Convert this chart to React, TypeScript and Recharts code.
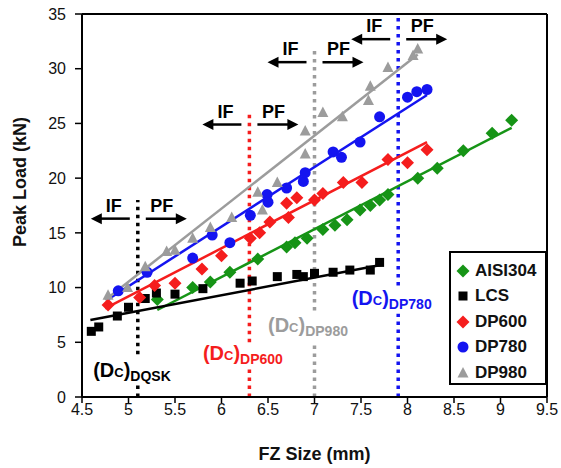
// Peak load vs FZ size scatter with linear trend lines and critical size markers
import {
  ComposedChart,
  Scatter,
  XAxis,
  YAxis,
  ReferenceLine,
  ReferenceDot,
  Legend,
} from "recharts";

// ---------------------------------------------------------------------------
// Data
// ---------------------------------------------------------------------------
const xTicks = [4.5, 5, 5.5, 6, 6.5, 7, 7.5, 8, 8.5, 9, 9.5];
const yTicks = [0, 5, 10, 15, 20, 25, 30, 35];

const aisiX = [5.31, 5.69, 5.88, 6.09, 6.39, 6.7, 6.79, 6.92, 7.09, 7.22, 7.35, 7.49, 7.6, 7.7, 7.79, 8.11, 8.32, 8.6, 8.91, 9.12];
const aisiY = [8.9, 10.0, 10.5, 11.4, 12.6, 13.7, 14.1, 14.5, 15.3, 15.7, 16.2, 17.1, 17.5, 18.0, 18.5, 20.0, 20.9, 22.5, 24.1, 25.3];

const lcsX = [4.6, 4.68, 4.88, 5.0, 5.18, 5.3, 5.5, 5.8, 6.2, 6.33, 6.6, 6.81, 6.88, 7.0, 7.2, 7.38, 7.6, 7.7];
const lcsY = [6.0, 6.4, 7.4, 8.2, 9.0, 9.5, 9.4, 9.9, 10.4, 10.6, 11.0, 11.2, 11.0, 11.3, 11.4, 11.6, 11.6, 12.3];

const dp600X = [4.78, 5.12, 5.28, 5.5, 5.79, 6.0, 6.31, 6.41, 6.52, 6.72, 6.7, 6.81, 7.0, 7.09, 7.31, 7.51, 7.79, 8.0, 8.21];
const dp600Y = [8.4, 9.1, 10.2, 10.4, 11.7, 12.9, 14.5, 15.0, 16.0, 16.4, 17.7, 18.2, 18.0, 18.6, 19.6, 19.6, 21.7, 21.4, 22.6];

const dp780X = [4.89, 5.2, 5.69, 5.9, 6.09, 6.31, 6.49, 6.5, 6.7, 6.88, 6.9, 7.2, 7.29, 7.49, 7.7, 8.0, 8.1, 8.21];
const dp780Y = [9.7, 11.4, 12.7, 14.8, 14.1, 16.6, 18.5, 17.8, 19.1, 19.7, 20.5, 22.4, 21.9, 23.3, 25.6, 27.4, 27.9, 28.1];

const dp980X = [4.78, 4.99, 5.18, 5.41, 5.5, 5.69, 5.88, 6.11, 6.39, 6.44, 6.6, 6.9, 6.9, 7.09, 7.3, 7.58, 7.6, 7.79, 8.06, 8.11];
const dp980Y = [9.3, 10.0, 11.9, 13.3, 13.4, 14.5, 15.5, 16.4, 18.7, 17.1, 19.6, 22.2, 24.3, 26.0, 25.6, 27.1, 28.4, 30.1, 31.2, 31.8];

// trend line end points [x0, y0, x1, y1]
const aisiTrend = [5.31, 7.95, 9.12, 24.6];
const lcsTrend = [4.59, 7.04, 7.74, 12.1];
const dp600Trend = [4.75, 8.1, 8.21, 23.3];
const dp780Trend = [4.77, 8.87, 8.21, 27.6];
const dp980Trend = [4.75, 8.87, 8.11, 31.3];

// critical FZ sizes (Dc) and their label text
const criticalNames = ["DQSK", "DP600", "DP980", "DP780"];
const criticalX = [5.1, 6.3, 7.0, 7.9];

// ---------------------------------------------------------------------------
// Styles
// ---------------------------------------------------------------------------
const FONT = "'Liberation Sans', Arial, sans-serif";
const GREEN = "#169416";
const RED = "#f51d1d";
const BLUE = "#1414f0";
const GRAY = "#9c9c9c";
const BLACK = "#000000";

const toPoints = (xs: number[], ys: number[]) => xs.map((x, i) => ({ x, y: ys[i] }));
const trendPoints = (t: number[]) => [
  { x: t[0], y: t[1] },
  { x: t[2], y: t[3] },
];

// marker shapes
const Diamond = (color: string) => (p: any) => (
  <polygon
    points={`${p.cx},${p.cy - 6.5} ${p.cx + 6.5},${p.cy} ${p.cx},${p.cy + 6.5} ${p.cx - 6.5},${p.cy}`}
    fill={color}
  />
);
const Square = (color: string) => (p: any) => (
  <rect x={p.cx - 4.5} y={p.cy - 4.5} width={9} height={9} fill={color} />
);
const Circle = (color: string) => (p: any) => <circle cx={p.cx} cy={p.cy} r={5.5} fill={color} />;
const Triangle = (color: string) => (p: any) => (
  <polygon
    points={`${p.cx},${p.cy - 6} ${p.cx + 5.5},${p.cy + 4.5} ${p.cx - 5.5},${p.cy + 4.5}`}
    fill={color}
  />
);
const NoDot = () => <g />;

const series = [
  { name: "AISI304", xs: aisiX, ys: aisiY, trend: aisiTrend, color: GREEN, shape: Diamond },
  { name: "LCS", xs: lcsX, ys: lcsY, trend: lcsTrend, color: BLACK, shape: Square },
  { name: "DP600", xs: dp600X, ys: dp600Y, trend: dp600Trend, color: RED, shape: Diamond },
  { name: "DP780", xs: dp780X, ys: dp780Y, trend: dp780Trend, color: BLUE, shape: Circle },
  { name: "DP980", xs: dp980X, ys: dp980Y, trend: dp980Trend, color: GRAY, shape: Triangle },
];

// annotation layout per critical line: dotted segments, label spot, IF/PF arrow height
const criticalColors = [BLACK, RED, GRAY, BLUE];
const criticalSegments = [
  [[0, 1.2], [3.9, 18]],
  [[0, 2.7], [5.0, 26]],
  [[0, 4.9], [7.9, 32]],
  [[0, 7.6], [10.2, 35]],
];
const labelPos = [
  [4.62, 1.8],
  [5.8, 3.4],
  [6.5, 5.9],
  [7.4, 8.4],
];
const arrowY = [16.3, 24.9, 30.6, 32.7];

// -----------------------------------------------------------------------------
// IF / PF arrow pair (centred on a critical line)
// -----------------------------------------------------------------------------
const ArrowPair = (p: any) => {
  const { cx, cy } = p;
  const head = (tipX: number, dir: number) =>
    `${tipX},${cy} ${tipX - dir * 11},${cy - 5.5} ${tipX - dir * 11},${cy + 5.5}`;
  return (
    <g>
      <line x1={cx - 8} y1={cy} x2={cx - 38} y2={cy} stroke={BLACK} strokeWidth={2.5} />
      <polygon points={head(cx - 47, -1)} fill={BLACK} />
      <line x1={cx + 8} y1={cy} x2={cx + 40} y2={cy} stroke={BLACK} strokeWidth={2.5} />
      <polygon points={head(cx + 49, 1)} fill={BLACK} />
      <text x={cx - 24} y={cy - 7} textAnchor="middle" fontFamily={FONT} fontWeight="bold" fontSize={18} fill={BLACK}>
        IF
      </text>
      <text x={cx + 24} y={cy - 7} textAnchor="middle" fontFamily={FONT} fontWeight="bold" fontSize={18} fill={BLACK}>
        PF
      </text>
    </g>
  );
};

const DcLabel = (name: string, color: string) => (p: any) => (
  <text x={p.cx} y={p.cy} fontFamily={FONT} fontWeight="bold" fill={color}>
    <tspan fontSize={20}>(D</tspan>
    <tspan fontSize={13}>C</tspan>
    <tspan fontSize={20}>)</tspan>
    <tspan fontSize={14} dy={4}>
      {name}
    </tspan>
  </text>
);

// -----------------------------------------------------------------------------
// Legend (boxed, inside the plot on the right)
// -----------------------------------------------------------------------------
const CustomLegend = () => (
  <div
    style={{
      border: "2px solid #000",
      background: "#fff",
      width: 98,
      height: 134,
      boxSizing: "border-box",
      paddingTop: 5,
      fontFamily: FONT,
    }}
  >
    {series.map((s) => (
      <div key={s.name} style={{ display: "flex", alignItems: "center", height: 25.5 }}>
        <svg width={20} height={16} style={{ marginLeft: 4 }}>
          {s.shape(s.color)({ cx: 8, cy: 8 })}
        </svg>
        <span style={{ fontSize: 17, fontWeight: "bold", color: "#111" }}>{s.name}</span>
      </div>
    ))}
  </div>
);

// ============================================================================
// APP
// ============================================================================
export default function App() {
  return (
    <div style={{ position: "absolute", left: 0, top: 0, background: "#fff" }}>
      <ComposedChart width={561} height={468} margin={{ top: 14, right: 14, bottom: 0, left: 0 }}>
        <XAxis
          type="number"
          dataKey="x"
          domain={[4.5, 9.5]}
          ticks={xTicks}
          allowDataOverflow
          height={71}
          tickSize={6}
          tickMargin={1}
          axisLine={{ stroke: BLACK, strokeWidth: 2 }}
          tickLine={{ stroke: BLACK, strokeWidth: 1.5 }}
          tick={{ fill: "#111", fontSize: 16, fontFamily: FONT }}
          label={{
            value: "FZ Size (mm)",
            position: "insideBottom",
            offset: 8,
            fill: "#111",
            fontSize: 18,
            fontWeight: "bold",
            fontFamily: FONT,
          }}
        />
        <YAxis
          type="number"
          dataKey="y"
          domain={[0, 35]}
          ticks={yTicks}
          allowDataOverflow
          width={82}
          tickSize={7}
          tickMargin={9}
          axisLine={{ stroke: BLACK, strokeWidth: 2 }}
          tickLine={{ stroke: BLACK, strokeWidth: 1.5 }}
          tick={{ fill: "#111", fontSize: 16, fontFamily: FONT }}
          label={{
            content: () => (
              <text
                x={26}
                y={182}
                transform="rotate(-90, 26, 182)"
                textAnchor="middle"
                fontFamily={FONT}
                fontWeight="bold"
                fontSize={18}
                fill="#111"
              >
                Peak Load (kN)
              </text>
            ),
          }}
        />

        {/* plot frame */}
        <ReferenceLine y={35} stroke={BLACK} strokeWidth={2} />
        <ReferenceLine x={9.5} stroke={BLACK} strokeWidth={2} />

        {/* critical size dotted lines */}
        {criticalX.map((x, i) =>
          criticalSegments[i].map((seg, j) => (
            <ReferenceLine
              key={`crit-${i}-${j}`}
              segment={[
                { x, y: seg[0] },
                { x, y: seg[1] },
              ]}
              stroke={criticalColors[i]}
              strokeWidth={3.5}
              strokeDasharray="3.5 4.5"
            />
          ))
        )}

        {/* trend lines */}
        {series.map((s) => (
          <Scatter
            key={`trend-${s.name}`}
            name={`${s.name} trend`}
            data={trendPoints(s.trend)}
            line={{ stroke: s.color, strokeWidth: 2.5 }}
            shape={NoDot}
            legendType="none"
            isAnimationActive={false}
          />
        ))}

        {/* measured points */}
        {series.map((s) => (
          <Scatter
            key={s.name}
            name={s.name}
            data={toPoints(s.xs, s.ys)}
            fill={s.color}
            shape={s.shape(s.color)}
            isAnimationActive={false}
          />
        ))}

        {/* labels and IF/PF arrows */}
        {criticalX.map((x, i) => (
          <ReferenceDot
            key={`lbl-${i}`}
            x={labelPos[i][0]}
            y={labelPos[i][1]}
            r={0}
            shape={DcLabel(criticalNames[i], criticalColors[i])}
          />
        ))}
        {criticalX.map((x, i) => (
          <ReferenceDot key={`arr-${i}`} x={x} y={arrowY[i]} r={0} shape={ArrowPair} />
        ))}

        <Legend
          layout="vertical"
          align="center"
          verticalAlign="middle"
          content={<CustomLegend />}
          wrapperStyle={{ left: 449, top: 251, width: 98, height: 134 }}
        />
      </ComposedChart>
    </div>
  );
}
